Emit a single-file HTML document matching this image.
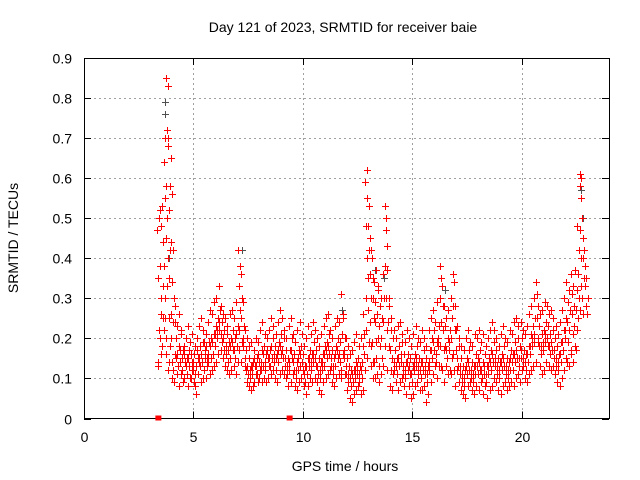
<!DOCTYPE html>
<html><head><meta charset="utf-8"><style>
html,body{margin:0;padding:0;background:#fff;width:640px;height:480px;overflow:hidden}
text{font-family:"Liberation Sans",sans-serif;font-size:14px;fill:#000}
</style></head><body>
<svg id="chart" width="640" height="480" viewBox="0 0 640 480" xmlns="http://www.w3.org/2000/svg">
<rect width="640" height="480" fill="#fff"/>
<g id="grid"></g>
<g id="axes"></g>
<g id="gray"></g>
<g id="red"></g>
<text x="343" y="32" text-anchor="middle">Day 121 of 2023, SRMTID for receiver baie</text>
<text x="345" y="471" text-anchor="middle">GPS time / hours</text>
<text x="18" y="238" text-anchor="middle" transform="rotate(-90 18 238)">SRMTID / TECUs</text>
</svg>
<script>
const xTicks=[0,5,10,15,20];
const yTicks=[0,0.1,0.2,0.3,0.4,0.5,0.6,0.7,0.8,0.9];
const yTickLabels=["0","0.1","0.2","0.3","0.4","0.5","0.6","0.7","0.8","0.9"];
const binStart=3.4, binStep=0.1;
const redBins=[
[47,50,35,22,14,13],[52,48,38,30,20,16,26],[53,44,33,22,18,25],[64,70,55,45,38,25,16,30],[85,83,72,68,58,50,40,33,12,20],[70,58,52,42,35,25,18,14],[65,56,44,34,26,14,10,20],[42,30,24,16,12,9],[28,20,15,11,24],[23,18,13,8,16],
[26,21,14,11,17],[22,17,12,9,15],[18,14,10,13,16],[20,15,11,8,13],[23,17,13,10,15],[19,14,10,12,16],[21,16,12,9,14],[18,13,8,6,11],[20,15,11,14,17],[23,18,13,9,15],
[25,19,14,10,16],[22,17,12,15,19],[21,15,10,13,18],[24,19,14,11,16],[27,20,15,12,18],[26,21,16,13,19],[29,23,18,14,21],[30,25,20,16,22],[33,27,22,17,24],[28,24,19,15,21],
[26,22,17,13,20],[25,21,16,12,18],[23,19,14,11,17],[26,20,15,12,18],[27,22,17,13,19],[25,20,15,11,17],[29,23,18,14,21],[42,38,33,27,22,17],[36,30,25,19,14],[29,23,18,13,20],
[22,17,12,9,15],[20,15,11,8,13],[18,13,10,7,12],[19,14,11,8,13],[17,13,9,11,15],[20,15,11,9,13],[19,14,10,12,16],[22,17,12,9,14],[24,18,13,10,16],[21,16,12,9,14],
[20,15,10,13,17],[22,17,13,11,15],[25,20,15,12,18],[23,18,14,10,16],[21,16,12,9,15],[24,19,14,11,17],[27,21,16,12,18],[25,20,15,11,17],[22,17,13,10,15],[20,15,11,8,13],
[23,17,12,9,14],[25,20,15,11,17],[21,16,12,8,14],[19,14,10,7,12],[22,17,12,9,15],[24,18,13,10,16],[21,16,12,8,14],[18,13,9,6,11],[20,15,11,8,13],[23,17,13,10,15],
[21,16,12,9,14],[24,19,14,10,16],[22,17,13,9,15],[20,15,11,7,13],[18,14,10,6,12],[21,16,12,9,14],[23,18,13,10,16],[25,19,15,11,17],[26,21,16,12,18],[22,17,13,9,15],
[20,15,11,8,13],[23,18,13,10,16],[25,20,15,11,17],[24,19,14,10,16],[31,26,21,16,12],[25,20,15,11,17],[20,15,11,7,13],[18,13,9,5,11],[16,12,8,4,10],[17,12,9,6,11],
[19,14,10,7,12],[21,15,11,8,13],[18,13,9,6,11],[20,14,10,7,12],[26,21,16,12,18],[59,55,48,40,30,22,15],[62,53,48,42,35,27,19],[45,42,36,30,24,18,13],[40,35,30,25,19,14,10],[34,29,24,19,14,10],
[37,32,26,20,15,11],[33,28,23,18,13,9],[30,25,20,15,11],[36,30,24,18,13],[53,50,47,43,38,30,22],[37,30,24,18,12],[28,22,17,12,8],[25,20,15,11,7],[22,17,12,9,14],[20,15,11,7,13],
[23,18,13,9,15],[24,19,14,10,16],[21,16,11,8,13],[19,14,10,6,12],[22,16,12,8,14],[20,15,11,5,13],[18,13,9,6,11],[21,16,12,8,14],[23,18,13,9,15],[20,15,11,7,13],
[19,14,10,7,12],[22,17,12,8,14],[20,15,11,4,13],[18,13,9,6,11],[22,17,12,9,14],[25,20,15,11,17],[27,22,17,13,19],[24,19,14,10,16],[29,23,18,13,20],[38,35,30,24,18,13],
[33,28,22,17,12],[28,23,18,13,9],[25,20,15,11,17],[27,22,17,12,19],[30,25,20,15,11],[36,34,28,22,16,12],[28,22,17,12,8],[23,18,13,9,15],[20,15,11,7,13],[18,13,9,6,11],
[17,12,8,5,10],[20,15,11,8,13],[22,17,12,9,14],[19,14,10,7,12],[18,13,9,6,11],[21,16,11,8,13],[20,15,11,7,13],[22,17,12,9,14],[19,14,10,6,12],[21,16,11,8,13],
[18,13,9,5,11],[20,15,11,7,13],[22,17,12,8,14],[24,19,14,10,16],[22,17,13,9,15],[20,15,11,7,13],[18,14,10,6,12],[21,16,12,8,14],[23,18,13,9,15],[20,15,11,7,13],
[19,14,10,8,12],[22,17,12,9,15],[21,16,12,8,14],[24,19,14,10,16],[25,20,15,11,17],[23,18,13,9,15],[24,20,15,12,17],[22,17,13,10,15],[21,16,12,9,14],[23,18,14,11,16],
[26,21,16,12,18],[28,23,18,13,20],[30,25,19,14,21],[34,31,25,19,14],[28,23,18,13,20],[26,21,16,11,18],[27,22,17,12,19],[29,24,19,14,21],[28,23,18,13,20],[26,21,16,12,18],
[27,22,17,13,19],[25,20,15,11,17],[23,18,13,9,15],[21,16,12,8,14],[24,19,14,10,16],[27,22,17,12,19],[30,25,20,15,22],[34,29,24,19,14],[32,27,22,17,13],[36,31,26,21,16],
[33,28,23,18,14],[37,32,27,22,17],[48,42,36,30,25],[61,60,58,55,47,40,33,27],[50,45,40,35,30,26],[42,38,33,28],[35,30,26]
];
const grayTimes=[3.7,3.72,3.9,7.2,13.3,13.7,16.5,22.7,22.8,11.8];
const grayValues=[0.79,0.76,0.40,0.42,0.37,0.35,0.32,0.57,0.50,0.27];
const gapTimes=[3.4,9.4];

const X0=84,X1=609,Y0=418.5,Y1=58;
const xMax=24,yMax=0.9;
const sx=v=>X0+(X1-X0)*v/xMax;
const sy=v=>Y0-(Y0-Y1)*v/yMax;
const NS="http://www.w3.org/2000/svg";
function mk(tag,attrs,parent){const e=document.createElementNS(NS,tag);for(const k in attrs)e.setAttribute(k,attrs[k]);parent.appendChild(e);return e;}
const grid=document.getElementById('grid'),axes=document.getElementById('axes');
yTicks.forEach((t,i)=>{
  const y=Math.round(sy(t))+0.5;
  if(i>0&&i<yTicks.length-1){const g=mk('line',{x1:X0,x2:X1,y1:y,y2:y,stroke:'#a0a0a0','stroke-dasharray':'2,3'},grid);
  
  }
  mk('line',{x1:X0,x2:X0+7,y1:y,y2:y,stroke:'#000'},axes);
  mk('line',{x1:X1-7,x2:X1,y1:y,y2:y,stroke:'#000'},axes);
  const tx=mk('text',{x:X0-12,y:y+5,'text-anchor':'end'},axes);
  tx.textContent=yTickLabels[i];
  
  
});
xTicks.forEach(t=>{
  const x=Math.round(sx(t))+0.5;
  if(t>0){const g=mk('line',{x1:x,x2:x,y1:Y1,y2:Y0,stroke:'#a0a0a0','stroke-dasharray':'2,3'},grid);
  
  }
  mk('line',{x1:x,x2:x,y1:Y0,y2:Y0-7,stroke:'#000'},axes);
  mk('line',{x1:x,x2:x,y1:Y1,y2:Y1+7,stroke:'#000'},axes);
  const tx=mk('text',{x:x,y:442,'text-anchor':'middle'},axes);
  tx.textContent=String(t);
  
  
});
const frame=mk('rect',{x:X0+0.5,y:Y1+0.5,width:X1-X0,height:Y0-Y1-0.5,fill:'none',stroke:'#000'},axes);



function plus(x,y){x=Math.round(x)+0.5;y=Math.round(y)+0.5;return `M${x-3.5} ${y}H${x+3.5}M${x} ${y-3.5}V${y+3.5}`;}
let gd='';
grayTimes.forEach((t,i)=>{gd+=plus(sx(t),sy(grayValues[i]));});
const gp=mk('path',{d:gd,stroke:'#505050','stroke-width':1,fill:'none'},document.getElementById('gray'));


let rd='';
const jitter=[-0.045,0.02,-0.01,0.04,-0.03,0.005,0.03,-0.02,0.045,-0.04];
redBins.forEach((bin,i)=>{
  const t=binStart+i*binStep;
  bin.forEach((v,j)=>{rd+=plus(sx(t+jitter[j%jitter.length]),sy(v/100));});
});
const rp=mk('path',{d:rd,stroke:'#ff0000','stroke-width':1,fill:'none'},document.getElementById('red'));


gapTimes.forEach(t=>{
  const r=mk('rect',{x:sx(t)-3,y:Y0-3,width:6,height:5,fill:'#ff0000'},document.getElementById('red'));
  
  
});
</script>
</body></html>
